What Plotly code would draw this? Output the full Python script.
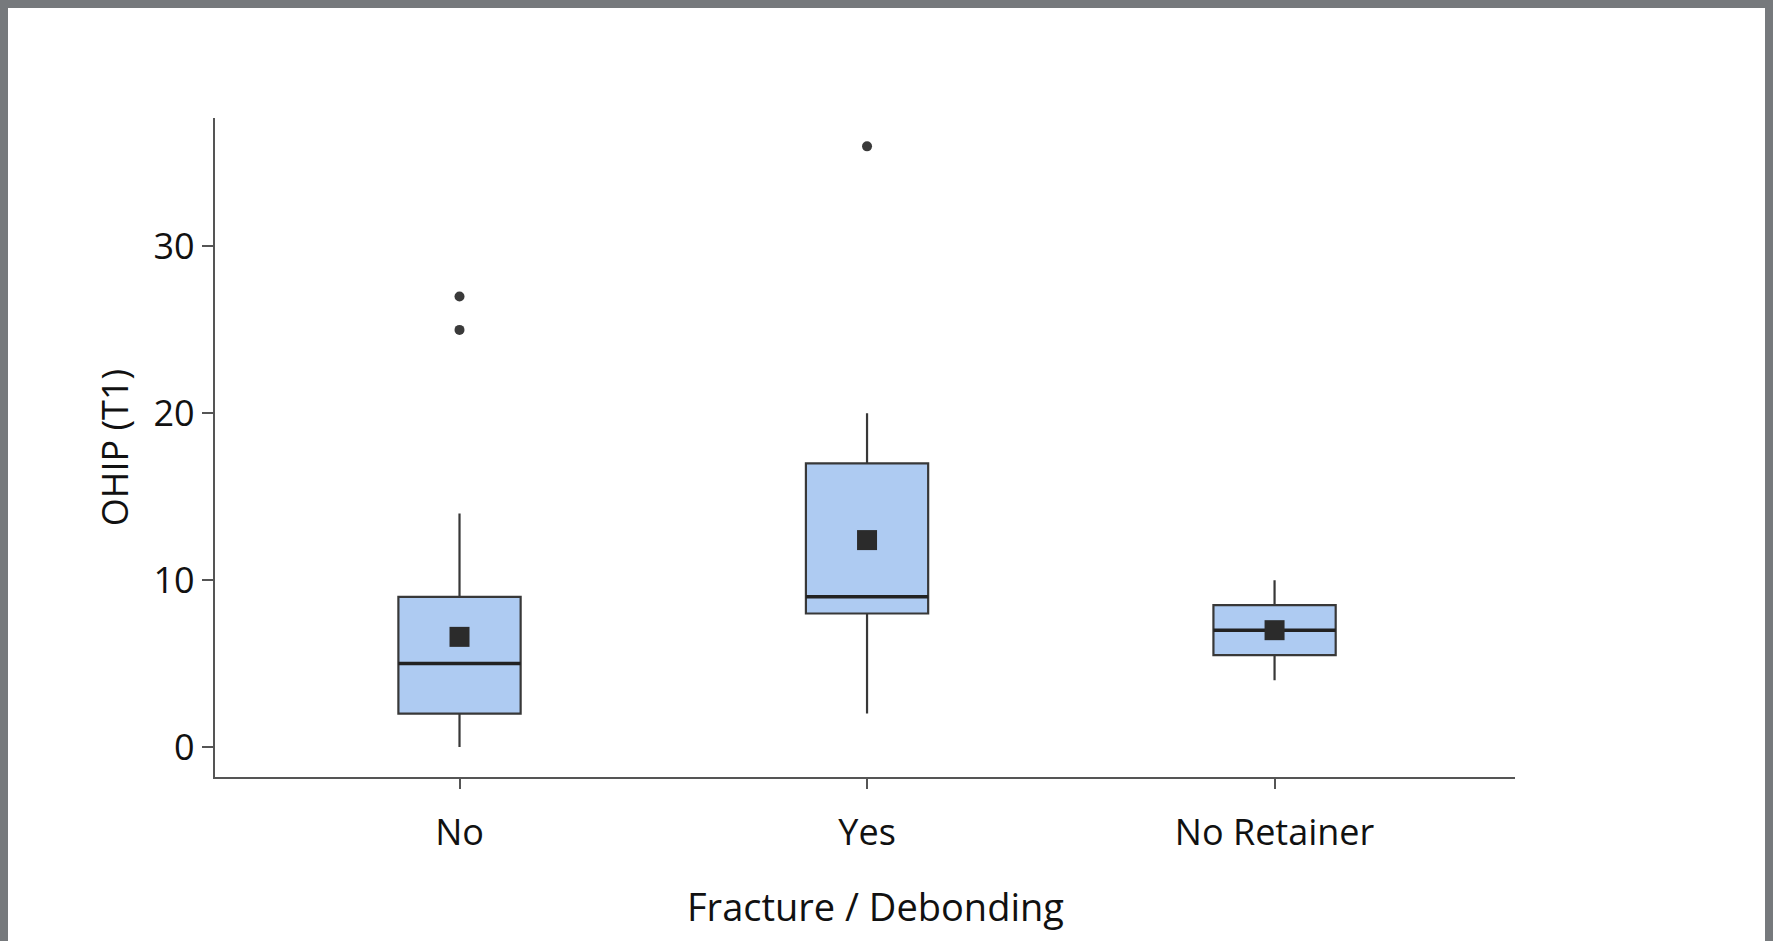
import plotly.graph_objects as go

categories = ["No", "Yes", "No Retainer"]
lower_whisker = [0, 2, 4]
q1_values = [2, 8, 5.5]
median_values = [5, 9, 7]
q3_values = [9, 17, 8.5]
upper_whisker = [14, 20, 10]
mean_values = [6.6, 12.4, 7.0]
outlier_x = ["No", "No", "Yes"]
outlier_y = [27, 25, 36]
y_ticks = [0, 10, 20, 30]

# figure sits at (8, 8) inside the page because of the default body margin
W, H = 1760, 933
L, R, T, B = 207, 1507, 110, 769  # plot area in figure px

fig = go.Figure()

fig.add_trace(go.Box(
    x=categories, q1=q1_values, median=median_values, q3=q3_values,
    lowerfence=lower_whisker, upperfence=upper_whisker,
    width=0.3, whiskerwidth=0, boxpoints=False,
    fillcolor="#aecbf2", line=dict(color="#383838", width=2.2),
    showlegend=False, hoverinfo="skip",
))
# thicker median line
fig.add_trace(go.Box(
    x=categories, q1=median_values, median=median_values, q3=median_values,
    lowerfence=median_values, upperfence=median_values,
    width=0.3, whiskerwidth=0, boxpoints=False,
    fillcolor="rgba(0,0,0,0)", line=dict(color="#222222", width=3.5),
    showlegend=False, hoverinfo="skip",
))
fig.add_trace(go.Scatter(
    x=categories, y=mean_values, mode="markers",
    marker=dict(symbol="square", size=20, color="#2b2b2b"),
    showlegend=False,
))
fig.add_trace(go.Scatter(
    x=outlier_x, y=outlier_y, mode="markers",
    marker=dict(symbol="circle", size=10, color="#3a3a3a"),
    showlegend=False,
))

pw, ph = R - L, B - T

fig.update_layout(
    width=W, height=H,
    margin=dict(l=L, r=W - R, t=T, b=H - B, pad=0),
    paper_bgcolor="white",
    plot_bgcolor="white",
    font=dict(family="Open Sans", color="#111111", size=36),
    boxmode="overlay",
    xaxis=dict(
        type="category", range=[-0.6, 2.59],
        showline=True, linecolor="#555555", linewidth=2.4,
        ticks="outside", ticklen=10, tickwidth=2, tickcolor="#555555",
        showgrid=False, zeroline=False,
        ticklabelstandoff=13,
        tickfont=dict(size=36),
    ),
    yaxis=dict(
        range=[-1.8, 37.7], tickvals=y_ticks,
        showline=True, linecolor="#555555", linewidth=2.4,
        ticks="outside", ticklen=11, tickwidth=2, tickcolor="#555555",
        showgrid=False, zeroline=False,
        tickfont=dict(size=36),
        title=dict(text="OHIP (T1)", font=dict(size=36), standoff=14),
    ),
    annotations=[dict(
        text="Fracture / Debonding", xref="paper", yref="paper",
        x=(868 - L) / pw, y=(B - 898) / ph, xanchor="center", yanchor="middle",
        showarrow=False, font=dict(size=38, color="#111111"),
    )],
)

fig.write_html(
    "out.html",
    post_script="document.body.style.background='#76797c';"
                "document.documentElement.style.background='#76797c';",
)
